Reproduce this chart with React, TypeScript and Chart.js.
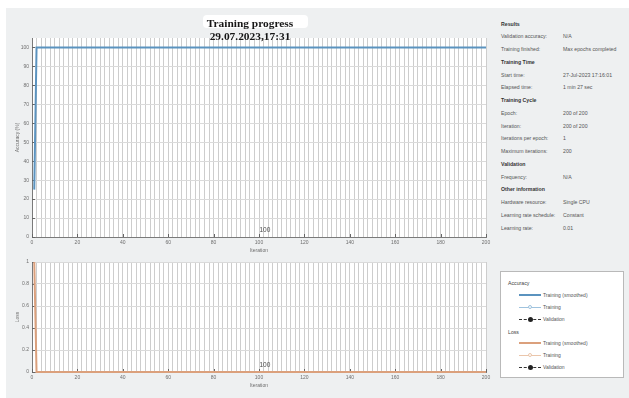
import React, { useEffect, useRef } from 'react';
import { Chart, registerables } from 'chart.js';

Chart.register(...registerables);

// ---- data ----
const titleLines = ['Training progress', '29.07.2023,17:31'];

const accIterations = [1, 2, 200];
const accValues = [25, 100, 100];

const lossIterations = [1, 2, 200];
const lossValues = [1.0, 0, 0];

const xTickLabels = [0, 20, 40, 60, 80, 100, 120, 140, 160, 180, 200];
const accTicks = [0, 10, 20, 30, 40, 50, 60, 70, 80, 90, 100];
const lossTicks = [0, 0.2, 0.4, 0.6, 0.8, 1];

const markerIteration = 100;
const markerText = '100';

const infoLabels = [
  'Results',
  'Validation accuracy:',
  'Training finished:',
  'Training Time',
  'Start time:',
  'Elapsed time:',
  'Training Cycle',
  'Epoch:',
  'Iteration:',
  'Iterations per epoch:',
  'Maximum iterations:',
  'Validation',
  'Frequency:',
  'Other information',
  'Hardware resource:',
  'Learning rate schedule:',
  'Learning rate:',
];
const infoValues = [
  '',
  'N/A',
  'Max epochs completed',
  '',
  '27-Jul-2023 17:16:01',
  '1 min 27 sec',
  '',
  '200 of 200',
  '200 of 200',
  '1',
  '200',
  '',
  'N/A',
  '',
  'Single CPU',
  'Constant',
  '0.01',
];

const legendGroups = ['Accuracy', 'Loss'];
const legendItems = ['Training (smoothed)', 'Training', 'Validation'];

// ---- styles ----
const ACC_COLOR = '#5b93bf';
const ACC_LIGHT = '#9fc3de';
const LOSS_COLOR = '#dba07c';
const LOSS_LIGHT = '#ebc6ab';
const GRID = '#cdcdcd';
const AXIS = '#7a7a7a';
const TICK_TEXT = '#6e6e6e';
const SANS = '"Liberation Sans", Arial, sans-serif';
const smallFont = { family: SANS, size: 5 };

const framePlugin = {
  id: 'frame',
  beforeDraw(chart: any) {
    const { ctx, chartArea: a } = chart;
    ctx.save();
    ctx.fillStyle = '#ffffff';
    ctx.fillRect(a.left, a.top, a.right - a.left, a.bottom - a.top);
    ctx.restore();
  },
  beforeDatasetsDraw(chart: any) {
    const { ctx, chartArea: a, scales } = chart;
    ctx.save();
    ctx.strokeStyle = '#666';
    ctx.lineWidth = 1;
    ctx.beginPath();
    xTickLabels.forEach((v) => {
      const px = Math.round(scales.x.getPixelForValue(v)) + 0.5;
      ctx.moveTo(px, a.bottom);
      ctx.lineTo(px, a.bottom - 3);
    });
    scales.y.ticks.forEach((t: any) => {
      const py = Math.round(scales.y.getPixelForValue(t.value)) + 0.5;
      ctx.moveTo(a.left, py);
      ctx.lineTo(a.left + 3, py);
    });
    ctx.stroke();
    ctx.restore();
  },
  afterDatasetsDraw(chart: any) {
    const { ctx, chartArea: a, scales } = chart;
    ctx.save();
    ctx.fillStyle = '#4a4a4a';
    ctx.font = `6.5px ${SANS}`;
    ctx.textAlign = 'left';
    ctx.textBaseline = 'bottom';
    ctx.fillText(markerText, scales.x.getPixelForValue(markerIteration) + 0.5, a.bottom - 4);
    ctx.restore();
  },
};

function buildConfig(
  iterations: number[],
  values: number[],
  color: string,
  yMax: number,
  yTicks: number[],
  yTitle: string,
  xHeight: number,
  xTitleBottom: number,
  topPad: number
): any {
  return {
    type: 'line',
    data: {
      datasets: [
        {
          data: iterations.map((x, i) => ({ x, y: values[i] })),
          borderColor: color,
          borderWidth: 2,
          pointRadius: 0,
          tension: 0,
          clip: 5,
        },
      ],
    },
    options: {
      animation: false,
      responsive: false,
      layout: { padding: { top: topPad, right: 8, left: 0, bottom: 0 } },
      plugins: { legend: { display: false }, tooltip: { enabled: false } },
      scales: {
        x: {
          type: 'linear',
          min: 0,
          max: 200,
          afterFit(s: any) {
            s.height = xHeight;
          },
          grid: { color: GRID, lineWidth: 1, drawTicks: false },
          border: { display: true, color: AXIS, width: 1 },
          ticks: {
            stepSize: 2,
            maxTicksLimit: 1000,
            autoSkip: false,
            maxRotation: 0,
            minRotation: 0,
            padding: 3,
            font: smallFont,
            color: TICK_TEXT,
            callback: (v: any) => (xTickLabels.includes(Number(v)) ? String(v) : ''),
          },
          title: {
            display: true,
            text: 'Iteration',
            font: smallFont,
            color: TICK_TEXT,
            padding: { top: 0, bottom: xTitleBottom },
          },
        },
        y: {
          type: 'linear',
          min: 0,
          max: yMax,
          afterBuildTicks(s: any) {
            s.ticks = yTicks.map((v) => ({ value: v }));
          },
          afterFit(s: any) {
            s.width = 26;
          },
          grid: { color: '#dadada', lineWidth: 1, drawTicks: false },
          border: { display: true, color: AXIS, width: 1 },
          ticks: {
            padding: 3,
            font: smallFont,
            color: TICK_TEXT,
            callback: (v: any) => String(Math.round(Number(v) * 10) / 10),
          },
          title: {
            display: true,
            text: yTitle,
            font: smallFont,
            color: TICK_TEXT,
            padding: { top: 9, bottom: 0 },
          },
        },
      },
    },
    plugins: [framePlugin],
  };
}

function LegendRow({ label, kind, strong, light, top }: any) {
  const lineLeft = 18;
  const lineWidth = 22;
  const mid = top;
  return (
    <>
      {kind === 0 && (
        <div style={{ position: 'absolute', left: lineLeft, top: mid - 1, width: lineWidth, height: 2, background: strong }} />
      )}
      {kind === 1 && (
        <>
          <div style={{ position: 'absolute', left: lineLeft, top: mid - 0.5, width: lineWidth, height: 1, background: light }} />
          <div
            style={{
              position: 'absolute',
              left: lineLeft + lineWidth / 2 - 2,
              top: mid - 2,
              width: 4,
              height: 4,
              borderRadius: 2,
              border: `1px solid ${light}`,
              background: '#fff',
              boxSizing: 'border-box',
            }}
          />
        </>
      )}
      {kind === 2 && (
        <>
          <div style={{ position: 'absolute', left: lineLeft, top: mid - 0.5, width: lineWidth, height: 0, borderTop: '1.2px dashed #333' }} />
          <div
            style={{
              position: 'absolute',
              left: lineLeft + lineWidth / 2 - 2.5,
              top: mid - 2.5,
              width: 5,
              height: 5,
              borderRadius: 3,
              background: '#222',
            }}
          />
        </>
      )}
      <div style={{ position: 'absolute', left: lineLeft + lineWidth + 2, top: mid - 3.5, fontSize: 5, lineHeight: '7px', color: '#555', whiteSpace: 'nowrap' }}>
        {label}
      </div>
    </>
  );
}

export default function App() {
  const accRef = useRef<HTMLCanvasElement>(null);
  const lossRef = useRef<HTMLCanvasElement>(null);

  useEffect(() => {
    const accChart = new Chart(
      accRef.current as HTMLCanvasElement,
      buildConfig(accIterations, accValues, ACC_COLOR, 105, accTicks, 'Accuracy (%)', 19, 2, 8)
    );
    const lossChart = new Chart(
      lossRef.current as HTMLCanvasElement,
      buildConfig(lossIterations, lossValues, LOSS_COLOR, 1, lossTicks, 'Loss', 26, 9, 6)
    );
    return () => {
      accChart.destroy();
      lossChart.destroy();
    };
  }, []);

  const legendColors = [
    [ACC_COLOR, ACC_LIGHT],
    [LOSS_COLOR, LOSS_LIGHT],
  ];

  return (
    <div
      style={{
        position: 'fixed',
        left: 0,
        top: 0,
        width: 629,
        height: 398,
        background: '#ffffff',
        overflow: 'hidden',
        fontFamily: SANS,
      }}
    >
      <div style={{ position: 'absolute', left: 6, top: 8, right: 0, bottom: 0, background: '#eef0f1' }} />

      {/* title */}
      <div style={{ position: 'absolute', left: 203, top: 15, width: 105, height: 13, background: '#ffffff', borderRadius: 4 }} />

      <canvas ref={accRef} width={488} height={226} style={{ position: 'absolute', left: 6, top: 30 }} />
      <canvas ref={lossRef} width={488} height={142} style={{ position: 'absolute', left: 6, top: 256 }} />

      <div
        style={{
          position: 'absolute',
          left: 150,
          top: 17,
          width: 200,
          textAlign: 'center',
          fontFamily: '"Liberation Serif", "Times New Roman", serif',
          fontWeight: 'bold',
          fontSize: 11.4,
          lineHeight: '12.5px',
          color: '#161616',
        }}
      >
        {titleLines.map((t) => (
          <div key={t}>{t}</div>
        ))}
      </div>

      {/* info panel */}
      {infoLabels.map((label, i) => {
        const top = 24 + i * 12.75 - 3.5;
        const header = infoValues[i] === '';
        return (
          <React.Fragment key={label}>
            <div
              style={{
                position: 'absolute',
                left: 501,
                top,
                fontSize: 5.2,
                lineHeight: '7px',
                color: header ? '#333' : '#555',
                fontWeight: header ? 'bold' : 'normal',
                whiteSpace: 'nowrap',
              }}
            >
              {label}
            </div>
            {!header && (
              <div style={{ position: 'absolute', left: 563, top, fontSize: 5.2, lineHeight: '7px', color: '#555', whiteSpace: 'nowrap' }}>
                {infoValues[i]}
              </div>
            )}
          </React.Fragment>
        );
      })}

      {/* legend */}
      <div
        style={{
          position: 'absolute',
          left: 500,
          top: 271,
          width: 124,
          height: 107,
          background: '#ffffff',
          border: '1px solid #b9b9b9',
          boxSizing: 'border-box',
        }}
      >
        {legendGroups.map((g, gi) => {
          const base = gi === 0 ? 11 : 60;
          return (
            <React.Fragment key={g}>
              <div style={{ position: 'absolute', left: 7, top: base - 3.5, fontSize: 5.2, lineHeight: '7px', color: '#444' }}>{g}</div>
              {legendItems.map((item, k) => (
                <LegendRow
                  key={item}
                  label={item}
                  kind={k}
                  strong={legendColors[gi][0]}
                  light={legendColors[gi][1]}
                  top={base + 12 * (k + 1) - (gi === 1 ? 1 : 0)}
                />
              ))}
            </React.Fragment>
          );
        })}
      </div>
    </div>
  );
}
